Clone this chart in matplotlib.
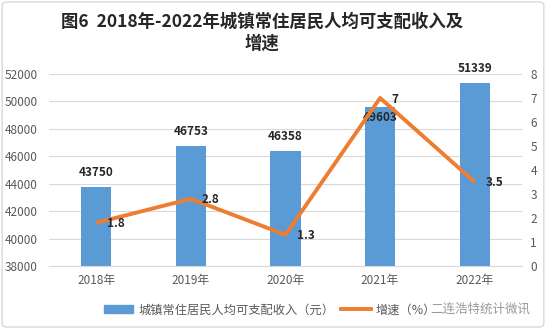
import matplotlib.pyplot as plt
from matplotlib.patches import FancyBboxPatch
from matplotlib.lines import Line2D
from matplotlib.patches import Patch

plt.rcParams['font.family'] = ['Noto Sans CJK SC', 'DejaVu Sans']

# 数据
years = ['2018年', '2019年', '2020年', '2021年', '2022年']
income = [43750, 46753, 46358, 49603, 51339]
growth = [1.8, 2.8, 1.3, 7, 3.5]

blue = '#5B9BD5'
orange = '#ED7D31'
grey = '#595959'

fig = plt.figure(figsize=(5.46, 3.29), dpi=100)
ax = fig.add_axes([49 / 546, 1 - 266 / 329, 473 / 546, 192 / 329])
ax2 = ax.twinx()

x = range(len(years))
bars = ax.bar(x, income, width=0.32, color=blue, zorder=2)
ax.set_xlim(-0.5, 4.5)
ax.set_ylim(38000, 52000)
ax.set_yticks(range(38000, 52001, 2000))
ax.grid(axis='y', color='#D9D9D9', lw=0.8, zorder=0)
ax.set_axisbelow(True)
ax.set_xticks(list(x))
ax.set_xticklabels(years)

ax2.plot(x, growth, color=orange, lw=2.8, zorder=3, solid_capstyle='butt')
ax2.set_ylim(0, 8)
ax2.set_yticks(range(0, 9))

for a in (ax, ax2):
    for s in a.spines.values():
        s.set_visible(False)
    a.tick_params(length=0, labelsize=8.5, colors=grey)
ax.spines['bottom'].set_visible(True)
ax.spines['bottom'].set_color('#D9D9D9')
ax.tick_params(axis='x', pad=6)
ax.tick_params(axis='y', pad=8)
ax2.tick_params(axis='y', pad=6)

# 柱形标签
for i, v in enumerate(income):
    if i == 3:
        ax.annotate(str(v), (i, v), xytext=(0, -11), textcoords='offset pixels',
                    ha='center', va='center', fontsize=8.5, color='#262626',
                    fontweight='bold')
    else:
        ax.annotate(str(v), (i, v), xytext=(0, 8), textcoords='offset pixels',
                    ha='center', va='bottom', fontsize=8.5, color='#262626',
                    fontweight='bold')

# 增速标签
for i, v in enumerate(growth):
    ax2.annotate(f'{v:g}', (i, v), xytext=(11, -1), textcoords='offset pixels',
                 ha='left', va='center', fontsize=8.5, color='#262626',
                 fontweight='bold')

fig.text(262 / 546, 1 - 22 / 329, '图6  2018年-2022年城镇常住居民人均可支配收入及',
         ha='center', va='center', fontsize=12.5, fontweight='bold', color='#262626')
fig.text(262 / 546, 1 - 44 / 329, '增速', ha='center', va='center',
         fontsize=12.5, fontweight='bold', color='#262626')

handles = [Patch(color=blue), Line2D([], [], color=orange, lw=2.8)]
labels = ['城镇常住居民人均可支配收入（元）', '增速（%）']
fig.legend(handles, labels, loc='center', bbox_to_anchor=(270 / 546, 1 - 310 / 329),
           ncol=2, frameon=False, fontsize=8.8, handlelength=2.4, handleheight=0.6,
           columnspacing=0.6, handletextpad=0.4, labelcolor=grey)

fig.text(430 / 546, 1 - 309 / 329, '二连浩特统计微讯', ha='left', va='center',
         fontsize=9, color='#9a9a9a')

fig.patches.append(FancyBboxPatch((0.004, 0.006), 0.992, 0.988,
                                  boxstyle='round,pad=0,rounding_size=0.01',
                                  transform=fig.transFigure, fill=False,
                                  ec='#D9D9D9', lw=1))

fig.savefig('out.png', dpi=100)
